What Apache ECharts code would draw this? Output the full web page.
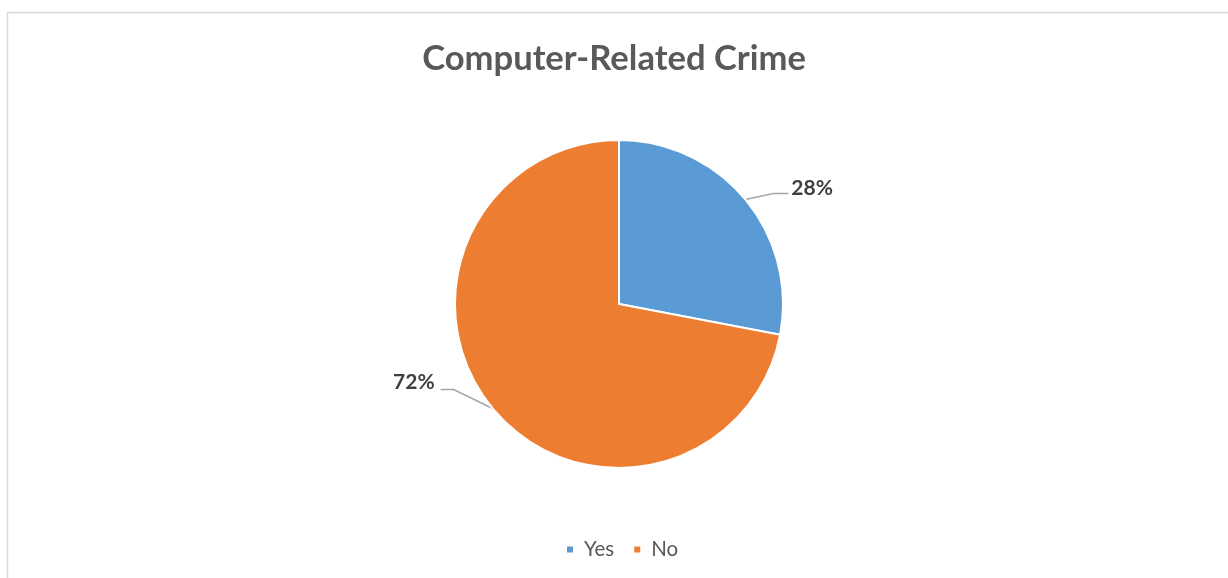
<!DOCTYPE html>
<html>
<head>
<meta charset="utf-8">
<script src="https://cdn.jsdelivr.net/npm/echarts@6/dist/echarts.min.js"></script>
<style>
  html, body { margin: 0; padding: 0; background: #fff; }
  #chart { width: 1228px; height: 578px; }
</style>
</head>
<body>
<div id="chart"></div>
<script>
// Survey answers on computer-related crime
const categories = ['Yes', 'No'];
const values = [28, 72];
const colors = ['#5b9bd5', '#ed7d31'];

const chart = echarts.init(document.getElementById('chart'), null, { renderer: 'canvas' });

// Elbow leader lines: a short slanted run from the slice edge, then a flat run to the label
function placeLabel(params) {
  const pts = params.labelLinePoints;
  if (!pts) return {};
  const p0 = pts[0];
  const rightSide = params.dataIndex === 0;
  let bend, end;
  if (rightSide) {
    bend = [p0[0] + 28, p0[1] - 6];
    end = [bend[0] + 15, bend[1]];
    return {
      x: end[0] + 3,
      y: end[1] - 5,
      align: 'left',
      verticalAlign: 'middle',
      labelLinePoints: [p0, bend, end]
    };
  }
  bend = [p0[0] - 39, p0[1] - 19];
  end = [bend[0] - 13, bend[1]];
  return {
    x: end[0] - 6,
    y: end[1] - 7,
    align: 'right',
    verticalAlign: 'middle',
    labelLinePoints: [p0, bend, end]
  };
}

const option = {
  animation: false,
  backgroundColor: '#ffffff',
  title: {
    text: 'Computer-Related Crime',
    left: 'center',
    top: 36,
    textStyle: {
      fontFamily: 'Lato',
      fontWeight: 'bold',
      fontSize: 34.6,
      color: '#595959'
    }
  },
  legend: {
    data: categories,
    bottom: 13,
    left: 560,
    icon: 'rect',
    itemWidth: 8,
    itemHeight: 8,
    itemGap: 18,
    textStyle: {
      fontFamily: 'Lato',
      fontSize: 20.5,
      color: '#595959',
      padding: [0, 0, 0, 5]
    }
  },
  graphic: [{
    type: 'rect',
    shape: { x: 7.5, y: 12.5, width: 1260, height: 620 },
    style: { fill: 'none', stroke: '#d9d9d9', lineWidth: 1.5 },
    silent: true
  }],
  series: [{
    type: 'pie',
    center: [619, 304],
    radius: 164,
    startAngle: 90,
    clockwise: true,
    percentPrecision: 0,
    data: categories.map((name, i) => ({
      name: name,
      value: values[i],
      itemStyle: { color: colors[i] }
    })),
    itemStyle: { borderColor: '#ffffff', borderWidth: 2 },
    label: {
      show: true,
      position: 'outside',
      formatter: '{d}%',
      fontFamily: 'Lato',
      fontWeight: 'bold',
      fontSize: 21,
      color: '#404040'
    },
    labelLine: {
      show: true,
      length: 20,
      length2: 15,
      smooth: false,
      lineStyle: { color: '#a6a6a6', width: 1.5 }
    },
    labelLayout: placeLabel,
    emphasis: { disabled: true }
  }]
};

chart.setOption(option);
</script>
</body>
</html>
